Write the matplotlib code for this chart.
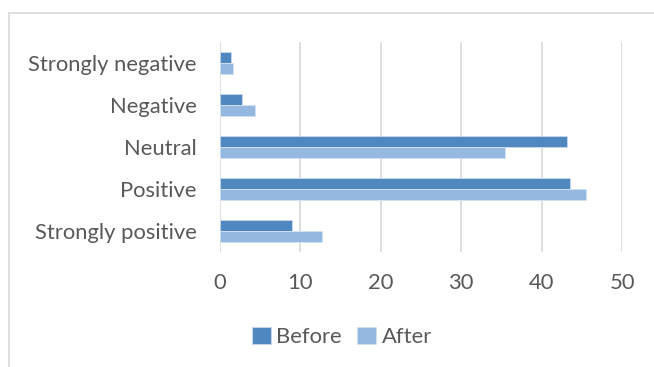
import numpy as np
import matplotlib.pyplot as plt
from matplotlib.patches import Rectangle

categories = ["Strongly positive", "Positive", "Neutral", "Negative", "Strongly negative"]
before = [8.9, 43.5, 43.2, 2.7, 1.4]
after = [12.7, 45.5, 35.4, 4.4, 1.6]

plt.rcParams['font.family'] = ['Lato', 'DejaVu Sans']

fig = plt.figure(figsize=(6.54, 3.67), dpi=100)
ax = fig.add_axes([220 / 654, 1 - 252 / 367, 402 / 654, 210 / 367])

y = np.arange(len(categories))
h = 0.262
ax.barh(y + h / 2, before, height=h, color='#4F88BF', edgecolor='#C9D9EE', lw=0.6, label='Before', zorder=3)
ax.barh(y - h / 2, after, height=h, color='#95B8E0', edgecolor='#D4E2F3', lw=0.6, label='After', zorder=3)

ax.set_xlim(0, 50)
ax.set_ylim(-0.5, len(categories) - 0.5)
ax.set_xticks(np.arange(0, 51, 10))
ax.set_yticks(y)
ax.set_yticklabels(categories)
ax.grid(axis='x', color='#D9D9D9', lw=1.2, zorder=0)
for s in ax.spines.values():
    s.set_visible(False)
ax.tick_params(length=0, labelsize=15.8, colors='#595959')
ax.tick_params(axis='y', pad=17)
ax.tick_params(axis='x', pad=15)

leg = fig.legend(loc='center', bbox_to_anchor=(342 / 654, 1 - 337 / 367), ncol=2, frameon=False,
                 fontsize=15.8, handlelength=0.85, handleheight=0.85, handletextpad=0.25,
                 columnspacing=0.7, borderpad=0)
for t in leg.get_texts():
    t.set_color('#595959')

# chart area outline
fig.add_artist(Rectangle((9 / 654, -0.1), 1.2, 1 - 13 / 367 + 0.1, transform=fig.transFigure,
                         fill=False, edgecolor='#D9D9D9', lw=1.2))

fig.savefig('out.png', dpi=100)
